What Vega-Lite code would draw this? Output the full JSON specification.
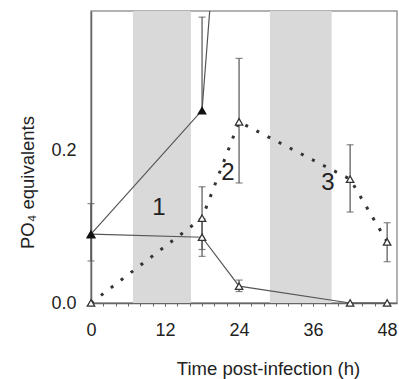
{
  "$schema": "https://vega.github.io/schema/vega-lite/v6.json",
  "width": 306,
  "height": 292,
  "autosize": {"type": "none"},
  "padding": {"left": 91, "top": 11, "right": 2, "bottom": 76},
  "background": "white",
  "config": {
    "view": {"stroke": "#999999", "strokeWidth": 1.5},
    "font": "Liberation Sans",
    "axis": {"grid": false, "labelFont": "Liberation Sans", "titleFont": "Liberation Sans", "labelColor": "#222222", "titleColor": "#222222", "titleFontWeight": "normal", "domainColor": "#666666", "domainWidth": 1.5, "tickColor": "#666666"}
  },
  "resolve": {"axis": {"x": "independent"}},
  "datasets": {
    "bands": [{"start": 6.8, "end": 16.2}, {"start": 29, "end": 39}],
    "pts": [
      {"series": "A", "t": 0, "v": 0.09, "lo": 0.055, "hi": 0.13},
      {"series": "A", "t": 18, "v": 0.252, "lo": null, "hi": 0.374},
      {"series": "A", "t": 24, "v": 0.88, "lo": null, "hi": null},
      {"series": "B", "t": 0, "v": 0.09, "lo": null, "hi": null},
      {"series": "B", "t": 18, "v": 0.086, "lo": 0.061, "hi": 0.11},
      {"series": "B", "t": 24, "v": 0.022, "lo": 0.015, "hi": 0.03},
      {"series": "B", "t": 42, "v": 0.0, "lo": null, "hi": null},
      {"series": "B", "t": 48, "v": 0.0, "lo": null, "hi": null},
      {"series": "C", "t": 0, "v": 0.0, "lo": null, "hi": null},
      {"series": "C", "t": 18, "v": 0.111, "lo": 0.07, "hi": 0.152},
      {"series": "C", "t": 24, "v": 0.237, "lo": 0.157, "hi": 0.32},
      {"series": "C", "t": 42, "v": 0.162, "lo": 0.119, "hi": 0.207},
      {"series": "C", "t": 48, "v": 0.08, "lo": 0.054, "hi": 0.105}
    ],
    "notes": [
      {"label": "1", "t": 11, "v": 0.124},
      {"label": "2", "t": 22.2, "v": 0.17},
      {"label": "3", "t": 38.4, "v": 0.157}
    ]
  },
  "layer": [
    {
      "data": {"name": "bands"},
      "mark": {"type": "rect", "color": "#d9d9d9"},
      "encoding": {
        "x": {"field": "start", "type": "quantitative", "scale": {"domain": [0, 49.6], "nice": false, "zero": false},
          "axis": {"orient": "bottom", "values": [0,2,4,6,8,10,12,14,16,18,20,22,24,26,28,30,32,34,36,38,40,42,44,46,48],
            "labels": false, "domain": false, "tickSize": 3, "title": null}},
        "x2": {"field": "end"}
      }
    },
    {
      "data": {"name": "pts"},
      "transform": [{"filter": "datum.series == 'A'"}],
      "mark": {"type": "line", "color": "#555555", "strokeWidth": 1.2, "clip": true},
      "encoding": {
        "x": {"field": "t", "type": "quantitative",
          "axis": {"orient": "bottom", "values": [0, 12, 24, 36, 48], "labelOverlap": false, "labelFlush": false,
            "tickSize": 3, "labelPadding": 15, "labelFontSize": 18,
            "title": "Time post-infection (h)", "titleFontSize": 18.5, "titleX": 177, "titleY": 71, "titleBaseline": "alphabetic", "titleAnchor": "middle"}},
        "y": {"field": "v", "type": "quantitative", "scale": {"domain": [0, 0.382], "nice": false},
          "axis": {"values": [0, 0.2], "format": ".1f", "tickSize": 0, "labelPadding": 15, "labelFontSize": 18,
            "title": "PO₄ equivalents", "titleFontSize": 18.5, "titleX": -64, "titleY": 171, "titleAnchor": "middle", "titleBaseline": "middle"}}
      }
    },
    {
      "data": {"name": "pts"},
      "transform": [{"filter": "datum.series == 'B'"}],
      "mark": {"type": "line", "color": "#555555", "strokeWidth": 1.2},
      "encoding": {
        "x": {"field": "t", "type": "quantitative", "axis": null},
        "y": {"field": "v", "type": "quantitative"}
      }
    },
    {
      "data": {"name": "pts"},
      "transform": [{"filter": "datum.series == 'C'"}],
      "mark": {"type": "line", "color": "#333333", "strokeWidth": 3, "strokeDash": [3, 9.5]},
      "encoding": {
        "x": {"field": "t", "type": "quantitative", "axis": null},
        "y": {"field": "v", "type": "quantitative"}
      }
    },
    {
      "data": {"name": "pts"},
      "transform": [{"filter": "datum.hi != null"}, {"calculate": "datum.lo == null ? datum.v : datum.lo", "as": "low"}],
      "mark": {"type": "rule", "color": "#555555", "strokeWidth": 1.2},
      "encoding": {
        "x": {"field": "t", "type": "quantitative", "axis": null},
        "y": {"field": "low", "type": "quantitative"},
        "y2": {"field": "hi"}
      }
    },
    {
      "data": {"name": "pts"},
      "transform": [{"fold": ["lo", "hi"], "as": ["end", "bound"]}, {"filter": "datum.bound != null"}],
      "mark": {"type": "tick", "orient": "horizontal", "color": "#555555", "size": 7, "thickness": 1.2},
      "encoding": {
        "x": {"field": "t", "type": "quantitative", "axis": null},
        "y": {"field": "bound", "type": "quantitative"}
      }
    },
    {
      "data": {"name": "pts"},
      "transform": [{"filter": "datum.series != 'A' && datum.v < 0.38"}],
      "mark": {"type": "point", "shape": "triangle-up", "filled": true, "fill": "white", "stroke": "#333333", "strokeWidth": 1.3, "size": 55, "opacity": 1},
      "encoding": {
        "x": {"field": "t", "type": "quantitative", "axis": null},
        "y": {"field": "v", "type": "quantitative"}
      }
    },
    {
      "data": {"name": "pts"},
      "transform": [{"filter": "datum.series == 'A' && datum.v < 0.38"}],
      "mark": {"type": "point", "shape": "triangle-up", "filled": true, "color": "#111111", "size": 95, "opacity": 1},
      "encoding": {
        "x": {"field": "t", "type": "quantitative", "axis": null},
        "y": {"field": "v", "type": "quantitative"}
      }
    },
    {
      "data": {"name": "notes"},
      "mark": {"type": "text", "fontSize": 24, "color": "#222222", "font": "Liberation Sans", "baseline": "middle", "align": "center"},
      "encoding": {
        "x": {"field": "t", "type": "quantitative", "axis": null},
        "y": {"field": "v", "type": "quantitative"},
        "text": {"field": "label"}
      }
    }
  ]
}
